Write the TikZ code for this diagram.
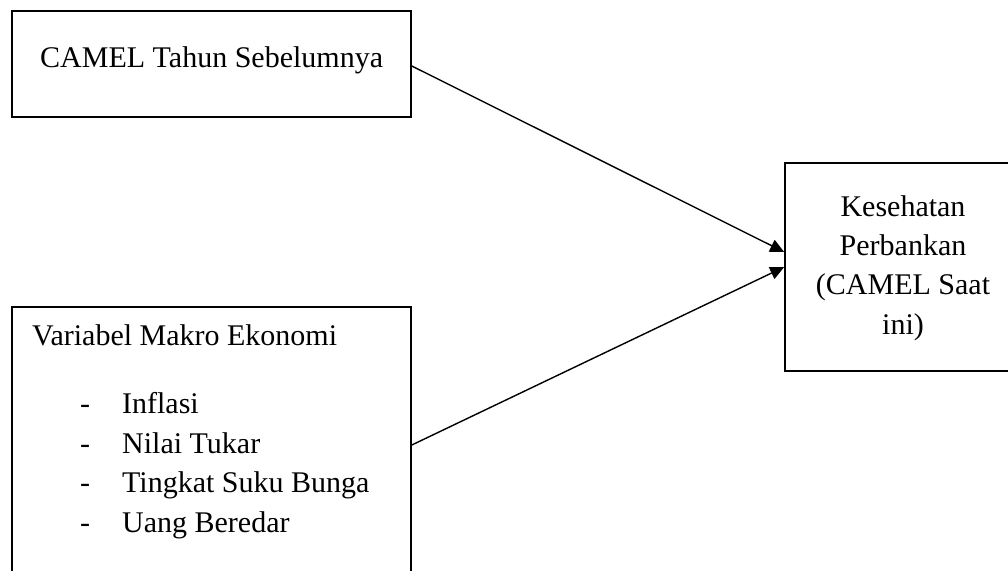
\documentclass[tikz,border=0pt]{standalone}
\usepackage{fontspec}
\setmainfont{Liberation Serif}
\usetikzlibrary{arrows.meta,calc}
\tikzset{
  box/.style={draw=black, line width=1.6pt, rectangle, inner sep=0pt},
  conn/.style={draw=black, line width=1.4pt, -{Triangle[length=14pt,width=13pt]}},
  txt/.style={inner sep=0pt, font=\fontsize{30}{39.4}\selectfont}
}
\begin{document}
\begin{tikzpicture}[x=1pt,y=-1pt]
\useasboundingbox (0,0) rectangle (1008,570);
\clip (0,0) rectangle (1008,570);
% boxes
\node[box, minimum width=399pt, minimum height=106pt] (b1) at (211.5,64) {};
\node[box, minimum width=399pt, minimum height=276pt] (b2) at (211.5,445) {};
\node[box, minimum width=236pt, minimum height=208pt] (b3) at (903,267) {};
% texts
\node[txt, anchor=base west] (t1text) at (40,67) {CAMEL Tahun Sebelumnya};
\node[txt, anchor=base west] (t2head) at (32,345) {Variabel Makro Ekonomi};
\node[txt, anchor=north west, align=left] (t2list) at (80,392.5)
  {\makebox[42pt][l]{-}Inflasi\\
   \makebox[42pt][l]{-}Nilai Tukar\\
   \makebox[42pt][l]{-}Tingkat Suku Bunga\\
   \makebox[42pt][l]{-}Uang Beredar};
\node[txt, align=center] (t3text) at (903,268)
  {Kesehatan\\Perbankan\\(CAMEL Saat\\ini)};
% connectors
\coordinate (from1) at ($(b1.east)+(0,2)$);
\coordinate (tip1) at ($(b3.west)+(0,-15)$);
\draw[conn] (from1) -- (tip1);
\draw[conn] (b2.east) -- (b3.west);
\end{tikzpicture}
\end{document}
